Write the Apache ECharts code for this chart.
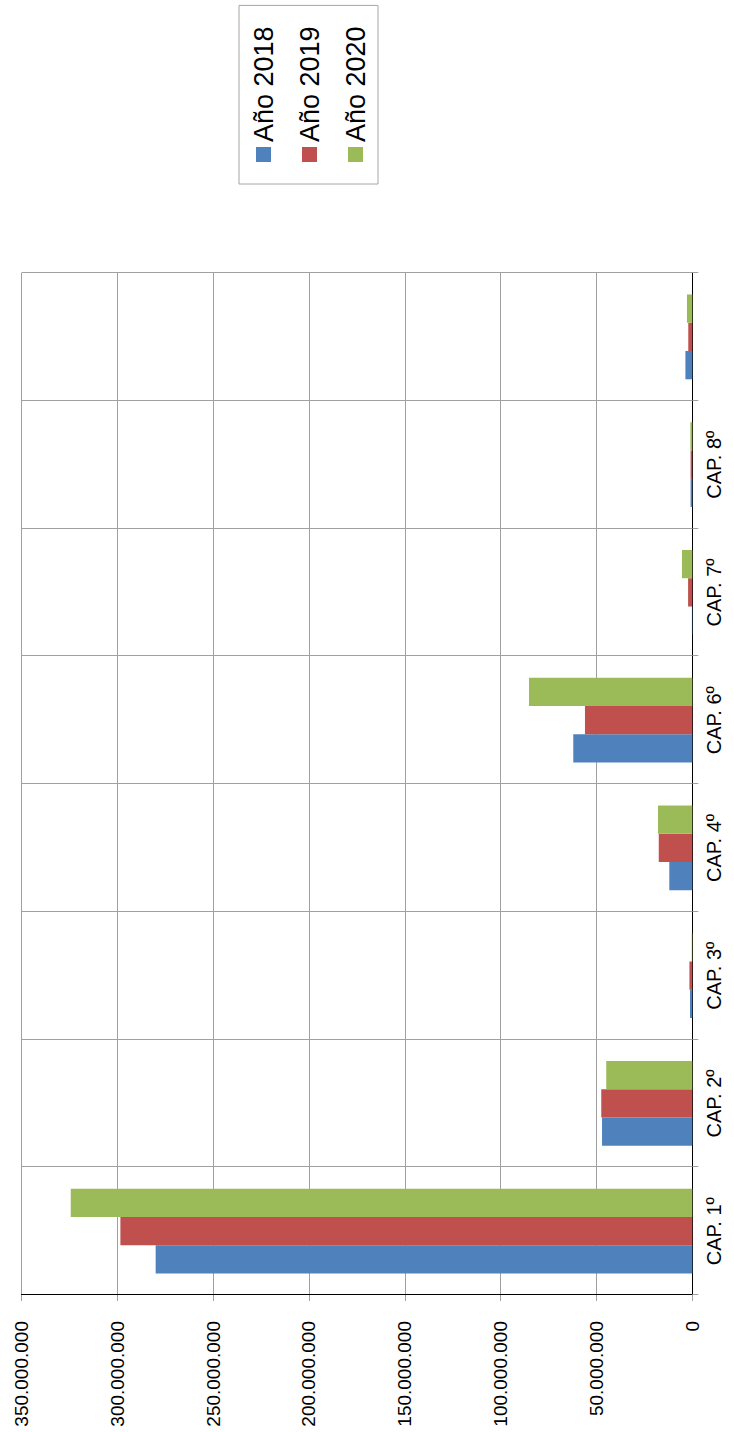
<!DOCTYPE html>
<html>
<head>
<meta charset="utf-8">
<script src="https://cdn.jsdelivr.net/npm/echarts@6/dist/echarts.min.js"></script>
<style>
  html, body { margin: 0; padding: 0; overflow: hidden; background: #fff; }
  /* the chart is drawn landscape and turned a quarter turn, like the source */
  #chart {
    position: absolute;
    top: 0;
    left: 0;
    width: 1432px;
    height: 734px;
    transform-origin: 0 0;
    transform: translateY(1432px) rotate(-90deg);
  }
</style>
</head>
<body>
<div id="chart"></div>
<script>
const categories = ['CAP. 1º', 'CAP. 2º', 'CAP. 3º', 'CAP. 4º', 'CAP. 6º', 'CAP. 7º', 'CAP. 8º', '']
const seriesNames = ['Año 2018', 'Año 2019', 'Año 2020']
const values2018 = [280000000, 47100000, 1200000, 12000000, 62100000, 200000, 900000, 3600000]
const values2019 = [298400000, 47500000, 1500000, 17500000, 56000000, 2200000, 900000, 2100000]
const values2020 = [324300000, 44900000, 300000, 17900000, 85200000, 5400000, 1000000, 2800000]
const valueTicks = [0, 50000000, 100000000, 150000000, 200000000, 250000000, 300000000, 350000000]

const colors = ['#4F81BD', '#C0504D', '#9BBB59']
const font = '"Liberation Sans", Arial, sans-serif'

function fmt(v) {
  return String(v).replace(/\B(?=(\d{3})+(?!\d))/g, '.')
}

const chart = echarts.init(document.getElementById('chart'), null, { renderer: 'svg' })

const allValues = [values2018, values2019, values2020]

const option = {
  animation: false,
  backgroundColor: '#fff',
  textStyle: { fontFamily: font },
  legend: {
    orient: 'vertical',
    left: 1248,
    top: 239,
    padding: [11, 21, 9, 22],
    itemWidth: 15,
    itemHeight: 15,
    itemGap: 19,
    borderColor: '#a6a6a6',
    borderWidth: 1,
    icon: 'rect',
    textStyle: { fontSize: 27, color: '#000', fontFamily: font },
    data: seriesNames
  },
  grid: {
    left: 137,
    right: 273,
    top: 21.5,
    bottom: 41.7,
    containLabel: false
  },
  xAxis: {
    type: 'category',
    data: categories,
    boundaryGap: true,
    axisLine: { lineStyle: { color: '#000', width: 1 } },
    axisTick: { show: true, length: 6, interval: 0, lineStyle: { color: '#a0a0a0' } },
    splitLine: { show: true, interval: 0, lineStyle: { color: '#a0a0a0', width: 1 } },
    axisLabel: { interval: 0, fontSize: 20, color: '#000', margin: 12, fontFamily: font }
  },
  yAxis: {
    type: 'value',
    min: 0,
    max: valueTicks[valueTicks.length - 1],
    interval: valueTicks[1] - valueTicks[0],
    axisLine: { show: true, lineStyle: { color: '#000', width: 1 } },
    axisTick: { show: true, length: 6, lineStyle: { color: '#a0a0a0' } },
    splitLine: { show: true, lineStyle: { color: '#a0a0a0', width: 1 } },
    axisLabel: { fontSize: 19, color: '#000', margin: 26, fontFamily: font, formatter: fmt }
  },
  series: seriesNames.map((name, i) => ({
    name: name,
    type: 'bar',
    data: allValues[i],
    barGap: '0%',
    barCategoryGap: '33.6%',
    itemStyle: { color: colors[i] }
  }))
}

chart.setOption(option)
</script>
</body>
</html>
